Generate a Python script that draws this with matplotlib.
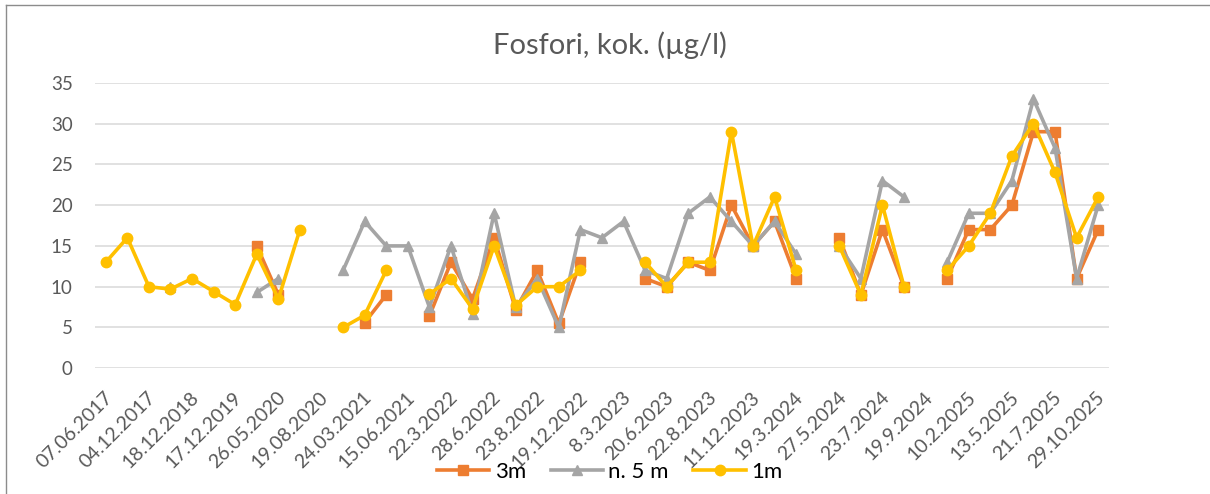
import numpy as np
import matplotlib
matplotlib.use("Agg")
import matplotlib.pyplot as plt
from matplotlib.lines import Line2D
from matplotlib.transforms import ScaledTranslation

nan = np.nan

# Sampling dates shown on the axis (every second sampling occasion)
tick_labels = [
    "07.06.2017", "04.12.2017", "18.12.2018", "17.12.2019", "26.05.2020",
    "19.08.2020", "24.03.2021", "15.06.2021", "22.3.2022", "28.6.2022",
    "23.8.2022", "19.12.2022", "8.3.2023", "20.6.2023", "22.8.2023",
    "11.12.2023", "19.3.2024", "27.5.2024", "23.7.2024", "19.9.2024",
    "10.2.2025", "13.5.2025", "21.7.2025", "29.10.2025",
]
n_samples = 47

# Total phosphorus (µg/l) per sampling occasion
p_3m = [nan, nan, nan, nan, nan, nan, nan, 15, 9, nan,
        nan, nan, 5.6, 9, nan, 6.4, 13, 8.5, 16, 7.2,
        12, 5.5, 13, nan, nan, 11, 10, 13, 12, 20,
        15, 18, 11, nan, 16, 9, 17, 10, nan, 11,
        17, 17, 20, 29, 29, 11, 17]
p_5m = [nan, nan, nan, 10, nan, nan, nan, 9.3, 11, nan,
        nan, 12, 18, 15, 15, 7.5, 15, 6.7, 19, 7.5,
        11, 5, 17, 16, 18, 12, 11, 19, 21, 18,
        15, 18, 14, nan, 15, 11, 23, 21, nan, 13,
        19, 19, 23, 33, 27, 11, 20]
p_1m = [13, 16, 10, 9.7, 11, 9.4, 7.8, 14, 8.5, 17,
        nan, 5, 6.5, 12, nan, 9.1, 11, 7.3, 15, 7.7,
        10, 10, 12, nan, nan, 13, 10, 13, 13, 29,
        15, 21, 12, nan, 15, 9, 20, 10, nan, 12,
        15, 19, 26, 30, 24, 16, 21]

series = [
    ("3m", p_3m, "#ED7D31", "s", 7.5),
    ("n. 5 m", p_5m, "#A5A5A5", "^", 7.0),
    ("1m", p_1m, "#FFC000", "o", 7.5),
]

plt.rcParams["font.family"] = ["Lato", "DejaVu Sans"]

fig = plt.figure(figsize=(12.10, 4.94), dpi=100)
ax = fig.add_axes([0.0785, 0.2545, 0.838, 0.578])

x = np.arange(n_samples)
for z, (name, vals, color, marker, ms) in enumerate(series):
    ax.plot(x, vals, color=color, lw=2.6, marker=marker, ms=ms,
            mfc=color, mec=color, mew=1.0, label=name, zorder=3 + z,
            solid_joinstyle="round")

ax.set_xlim(-0.5, n_samples - 0.5)
ax.set_ylim(0, 35)
ax.set_yticks(range(0, 36, 5))
ax.yaxis.grid(True, color="#D9D9D9", lw=1.1)
ax.set_axisbelow(True)
for s in ax.spines.values():
    s.set_visible(False)

ax.set_xticks(range(0, n_samples, 2))
ax.set_xticklabels(tick_labels, rotation=45, ha="right", va="center",
                   rotation_mode="anchor")
ax.tick_params(axis="x", length=0, pad=19, labelsize=14, labelcolor="#595959")
ax.tick_params(axis="y", length=0, pad=16, labelsize=13.5, labelcolor="#595959")
shift = ScaledTranslation(4 / 100, 0, fig.dpi_scale_trans)
for lbl in ax.get_xticklabels():
    lbl.set_transform(lbl.get_transform() + shift)

fig.text(0.504, 1 - 45 / 494, "Fosfori, kok. (µg/l)", ha="center", va="center",
         fontsize=21, color="#595959")

fig.legend(loc="center", bbox_to_anchor=(0.504, 0.0445), ncol=3, frameon=False,
           fontsize=16, handlelength=2.35, handletextpad=0.25,
           columnspacing=1.1)

# Outer chart frame (top and left edges)
fig.add_artist(Line2D([5.5 / 1210, 1.0], [1 - 5.5 / 494] * 2, color="#8C8C8C",
                      lw=1.0, transform=fig.transFigure))
fig.add_artist(Line2D([5.5 / 1210] * 2, [0.0, 1 - 5.5 / 494], color="#8C8C8C",
                      lw=1.0, transform=fig.transFigure))

fig.savefig("out.png", dpi=100)
